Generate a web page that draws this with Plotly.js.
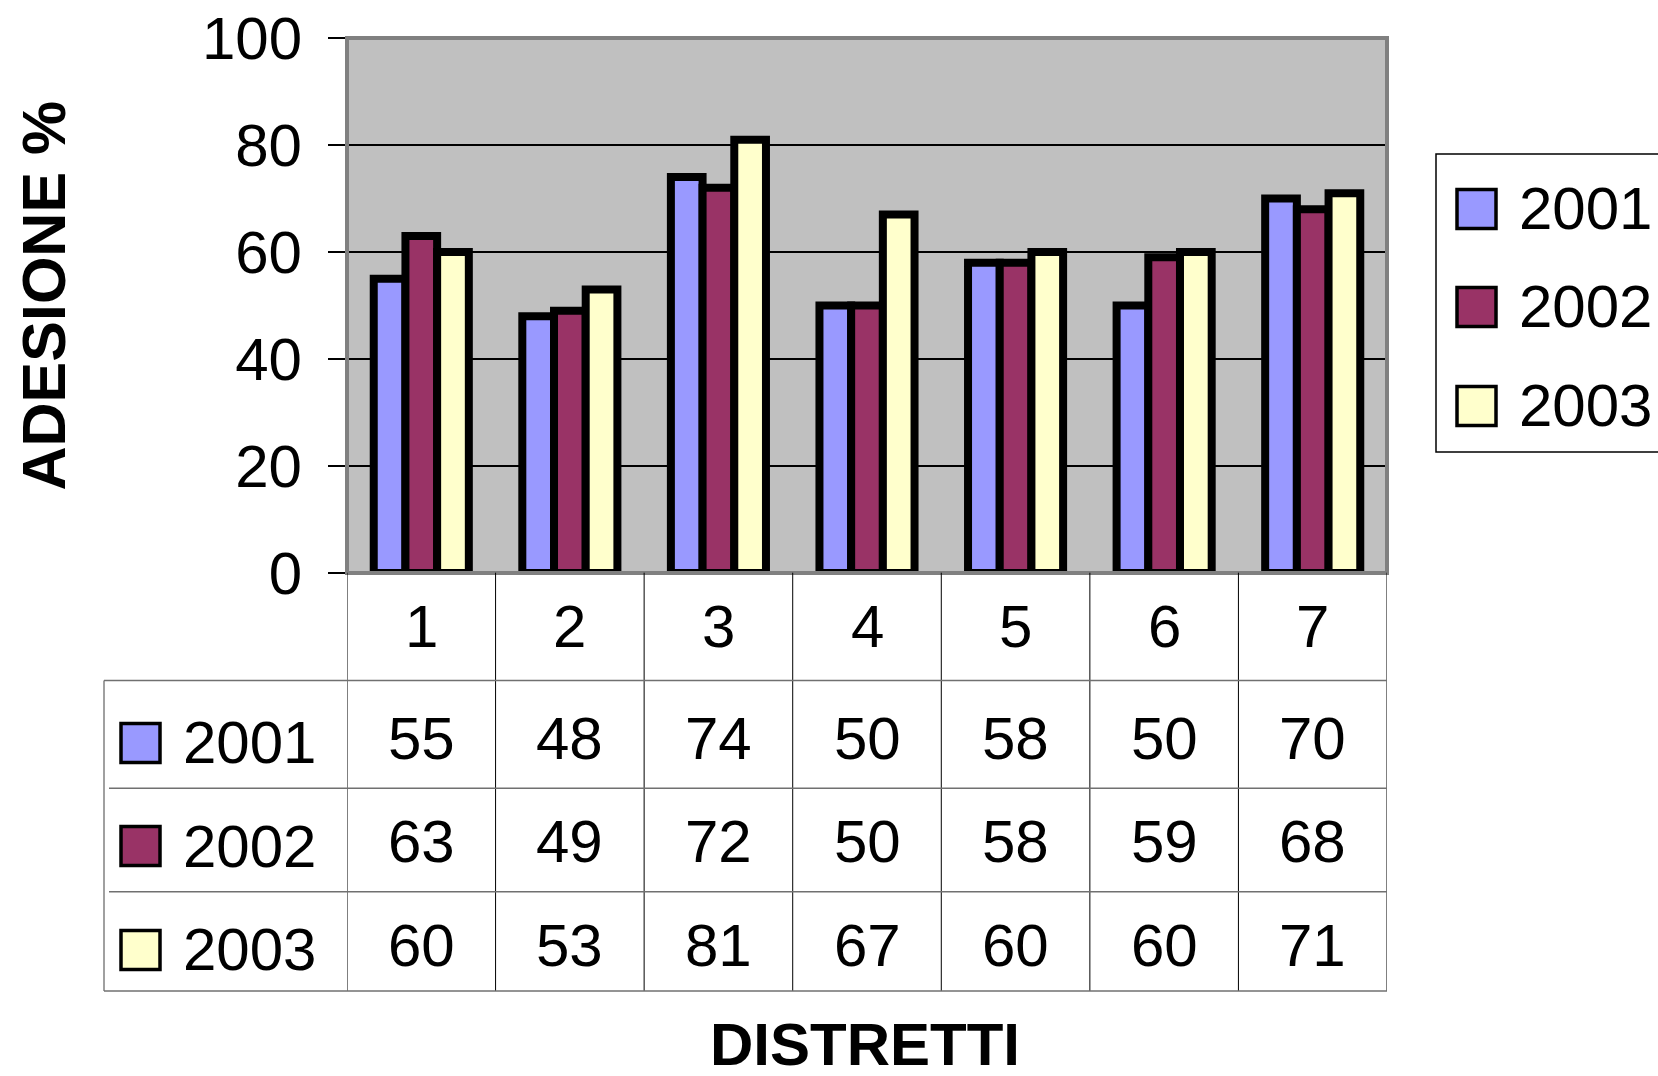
<!DOCTYPE html>
<html>
<head>
<meta charset="utf-8">
<script src="https://cdn.plot.ly/plotly-3.0.1.min.js"></script>
<style>html,body{margin:0;padding:0;background:#fff;}#chart{width:1658px;height:1076px;}</style>
</head>
<body>
<div id="chart"></div>
<script>
// ---- data ----
const categories = ['1', '2', '3', '4', '5', '6', '7'];
const years = ['2001', '2002', '2003'];
const v2001 = [55, 48, 74, 50, 58, 50, 70];
const v2002 = [63, 49, 72, 50, 58, 59, 68];
const v2003 = [60, 53, 81, 67, 60, 60, 71];
const yTicks = [0, 20, 40, 60, 80, 100];
const yTitle = 'ADESIONE %';
const xTitle = 'DISTRETTI';

// ---- styling ----
const seriesValues = [v2001, v2002, v2003];
const colors = ['#9999FF', '#993366', '#FFFFCC'];
const FONT = 'Arial, "Liberation Sans", sans-serif';
const W = 1658, H = 1076;
const L = 347, R = 1387, T = 38, B = 573;
const PW = R - L, PH = B - T;
const px = x => (x - L) / PW;
const py = y => (B - y) / PH;

const traces = years.map((yr, i) => ({
  type: 'bar',
  name: yr,
  x: categories,
  y: seriesValues[i],
  marker: {color: colors[i], line: {color: '#000', width: 8}},
  showlegend: false,
  hoverinfo: 'x+y+name'
}));

const shapes = [];
const annotations = [];

// plot area border
shapes.push({type: 'rect', xref: 'paper', yref: 'paper', x0: 0, x1: 1, y0: 0, y1: 1,
  line: {color: '#808080', width: 4}, layer: 'above'});

// data table grid
const tableRows = [572.7, 680.5, 788.3, 891.7, 991];
for (let j = 0; j <= categories.length; j++) {
  shapes.push({type: 'line', xref: 'x', yref: 'paper', x0: j - 0.5, x1: j - 0.5,
    y0: py(tableRows[0]), y1: py(tableRows[4]), line: {color: '#000', width: 1}});
}
shapes.push({type: 'line', xref: 'paper', yref: 'paper', x0: px(104), x1: px(104),
  y0: py(tableRows[1]), y1: py(tableRows[4]), line: {color: '#808080', width: 1.5}});
[1, 2, 3, 4].forEach(k => {
  shapes.push({type: 'line', xref: 'paper', yref: 'paper', x0: px(k === 1 || k === 4 ? 104 : 109), x1: 1,
    y0: py(tableRows[k]), y1: py(tableRows[k]), line: {color: '#707070', width: 1.5}});
});

// header row: category labels
categories.forEach((c, j) => {
  annotations.push({text: c, xref: 'x', yref: 'paper', x: j, y: py(626),
    xanchor: 'center', yanchor: 'middle', showarrow: false,
    font: {family: FONT, size: 60, color: '#000'}});
});

// table body
const rowNumY = [738, 841.5, 945];
const rowLabY = [742.5, 846.5, 949.5];
const rowKeyY = [743, 846, 950];
years.forEach((yr, i) => {
  shapes.push({type: 'rect', xref: 'paper', yref: 'paper',
    x0: px(121), x1: px(160), y0: py(rowKeyY[i] - 19.5), y1: py(rowKeyY[i] + 19.5),
    fillcolor: colors[i], line: {color: '#000', width: 3.5}});
  annotations.push({text: yr, xref: 'paper', yref: 'paper', x: px(181), y: py(rowLabY[i]),
    xanchor: 'left', yanchor: 'middle', showarrow: false,
    font: {family: FONT, size: 60, color: '#000'}});
  seriesValues[i].forEach((v, j) => {
    annotations.push({text: String(v), xref: 'x', yref: 'paper', x: j, y: py(rowNumY[i]),
      xanchor: 'center', yanchor: 'middle', showarrow: false,
      font: {family: FONT, size: 60, color: '#000'}});
  });
});

// legend (drawn manually)
shapes.push({type: 'rect', xref: 'paper', yref: 'paper', x0: px(1436), x1: px(1680),
  y0: py(154), y1: py(452), line: {color: '#000', width: 1.5}, fillcolor: '#fff'});
const legKeyY = [209, 307, 406];
years.forEach((yr, i) => {
  shapes.push({type: 'rect', xref: 'paper', yref: 'paper',
    x0: px(1457), x1: px(1496), y0: py(legKeyY[i] - 19.5), y1: py(legKeyY[i] + 19.5),
    fillcolor: colors[i], line: {color: '#000', width: 3.5}});
  annotations.push({text: yr, xref: 'paper', yref: 'paper', x: px(1517), y: py(legKeyY[i] - 1),
    xanchor: 'left', yanchor: 'middle', showarrow: false,
    font: {family: FONT, size: 60, color: '#000'}});
});

// axis titles
annotations.push({text: '<b>' + yTitle + '</b>', xref: 'paper', yref: 'paper', x: px(43.5), y: py(296),
  xanchor: 'center', yanchor: 'middle', textangle: -90, showarrow: false,
  font: {family: FONT, size: 61, color: '#000'}});
annotations.push({text: '<b>' + xTitle + '</b>', xref: 'paper', yref: 'paper', x: px(865), y: py(1044),
  xanchor: 'center', yanchor: 'middle', showarrow: false,
  font: {family: FONT, size: 60, color: '#000'}});

const layout = {
  width: W, height: H,
  margin: {l: L, r: W - R, t: T, b: H - B, pad: 0},
  paper_bgcolor: '#ffffff',
  plot_bgcolor: '#C0C0C0',
  barmode: 'group',
  bargap: 0.36,
  bargroupgap: 0,
  showlegend: false,
  font: {family: FONT, size: 60, color: '#000'},
  xaxis: {
    type: 'category',
    range: [-0.5, categories.length - 0.5],
    showticklabels: false,
    ticks: '',
    showgrid: false,
    zeroline: false,
    showline: false,
    fixedrange: true
  },
  yaxis: {
    range: [0, 100],
    tickvals: yTicks,
    ticktext: yTicks.map(String),
    ticks: 'outside',
    ticklen: 18,
    tickwidth: 1.5,
    tickcolor: '#000',
    tickfont: {family: FONT, size: 60, color: '#000'},
    ticklabelstandoff: 14,
    showgrid: true,
    gridcolor: '#000',
    gridwidth: 1.5,
    zeroline: false,
    showline: false,
    fixedrange: true
  },
  shapes: shapes,
  annotations: annotations
};

Plotly.newPlot('chart', traces, layout, {displayModeBar: false, staticPlot: true});
</script>
</body>
</html>
